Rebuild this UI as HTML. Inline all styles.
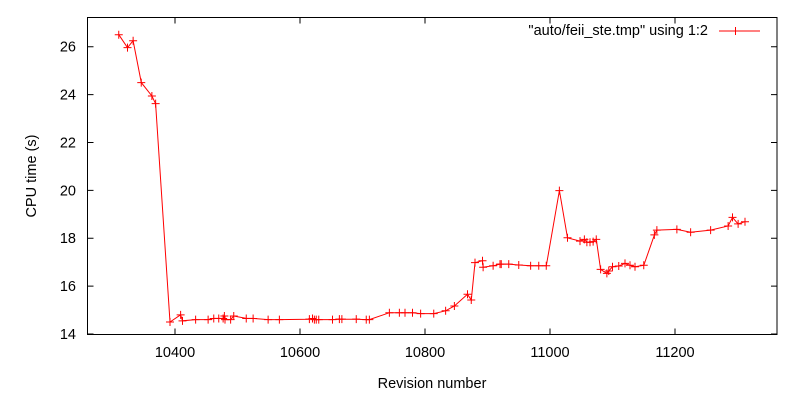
<!DOCTYPE html>
<html><head><meta charset="utf-8"><style>
html,body{margin:0;padding:0;background:#fff}
svg{display:block}
text{font-family:"Liberation Sans",sans-serif;font-size:14.5px;fill:#000}
</style></head><body>
<svg id="chart" width="800" height="400" xmlns="http://www.w3.org/2000/svg">
<rect x="87.5" y="17.5" width="689.5" height="317" fill="none" stroke="#000" stroke-width="1"/>
<g id="axes"></g>
<text x="432" y="388" text-anchor="middle">Revision number</text>
<text x="36" y="176" text-anchor="middle" transform="rotate(-90 36 176)">CPU time (s)</text>
<g>
<text x="708" y="35" text-anchor="end">"auto/feii_ste.tmp" using 1:2</text>
<line x1="719" y1="31" x2="760" y2="31" stroke="#f00" stroke-width="1"/>
<path d="M735.5,27v8M731.5,31h8" stroke="#f00" stroke-width="1"/>
</g>
<g id="series"></g>
</svg>
<script>
const xTicks=[10400,10600,10800,11000,11200];
const yTicks=[14,16,18,20,22,24,26];
const revisions=[10310,10324,10333,10346,10363,10369,10392,10409,10412,10433,10453,10462,10470,10477,10479,10480,10489,10494,10514,10525,10549,10567,10615,10620,10623,10626,10630,10652,10663,10667,10690,10706,10711,10743,10759,10768,10780,10793,10814,10833,10847,10868,10874,10880,10892,10893,10909,10920,10922,10934,10950,10969,10982,10994,11015,11028,11048,11055,11059,11064,11069,11074,11081,11091,11094,11100,11110,11120,11128,11136,11150,11167,11171,11203,11225,11257,11285,11292,11301,11312];
const cpuTimes=[26.5,25.96,26.25,24.5,23.94,23.62,14.5,14.8,14.55,14.6,14.6,14.65,14.65,14.65,14.75,14.6,14.6,14.75,14.65,14.65,14.6,14.6,14.62,14.65,14.6,14.6,14.6,14.6,14.62,14.62,14.62,14.6,14.6,14.89,14.89,14.89,14.89,14.85,14.85,14.97,15.17,15.66,15.42,16.98,17.06,16.79,16.85,16.92,16.92,16.92,16.88,16.85,16.85,16.85,19.99,18.02,17.88,17.95,17.83,17.83,17.86,17.95,16.7,16.53,16.63,16.81,16.84,16.95,16.87,16.81,16.87,18.14,18.34,18.37,18.25,18.34,18.51,18.87,18.6,18.69];
const NS='http://www.w3.org/2000/svg';
function xs(v){return 175+(v-10400)*(550-175)/600;}
function ys(v){return 334-(v-14)*(334-46.7)/12;}
const axes=document.getElementById('axes');
const series=document.getElementById('series');
function mk(tag,attrs,parent){const e=document.createElementNS(NS,tag);for(const k in attrs)e.setAttribute(k,attrs[k]);parent.appendChild(e);return e;}
xTicks.forEach(t=>{
  const x=xs(t);
  const g=mk('path',{d:`M${x},334.5v-6M${x},17.5v6`,stroke:'#000','stroke-width':1,fill:'none'},axes);
  
  
  const tx=mk('text',{x:x,y:357,'text-anchor':'middle'},axes);
  
  
  tx.textContent=t;
});
yTicks.forEach(t=>{
  const y=ys(t);
  const g=mk('path',{d:`M87.5,${y}h6M777,${y}h-6`,stroke:'#000','stroke-width':1,fill:'none'},axes);
  
  
  const tx=mk('text',{x:76,y:y+5,'text-anchor':'end'},axes);
  
  
  tx.textContent=t;
});
const pts=revisions.map((r,i)=>xs(r).toFixed(1)+','+ys(cpuTimes[i]).toFixed(1));
const line=mk('polyline',{points:pts.join(' '),fill:'none',stroke:'#f00','stroke-width':1},series);


revisions.forEach((r,i)=>{
  const x=xs(r),y=ys(cpuTimes[i]);
  const m=mk('path',{d:`M${x-4},${y}h8M${x},${y-4}v8`,stroke:'#f00','stroke-width':1},series);
  
  
});
</script>
</body></html>
